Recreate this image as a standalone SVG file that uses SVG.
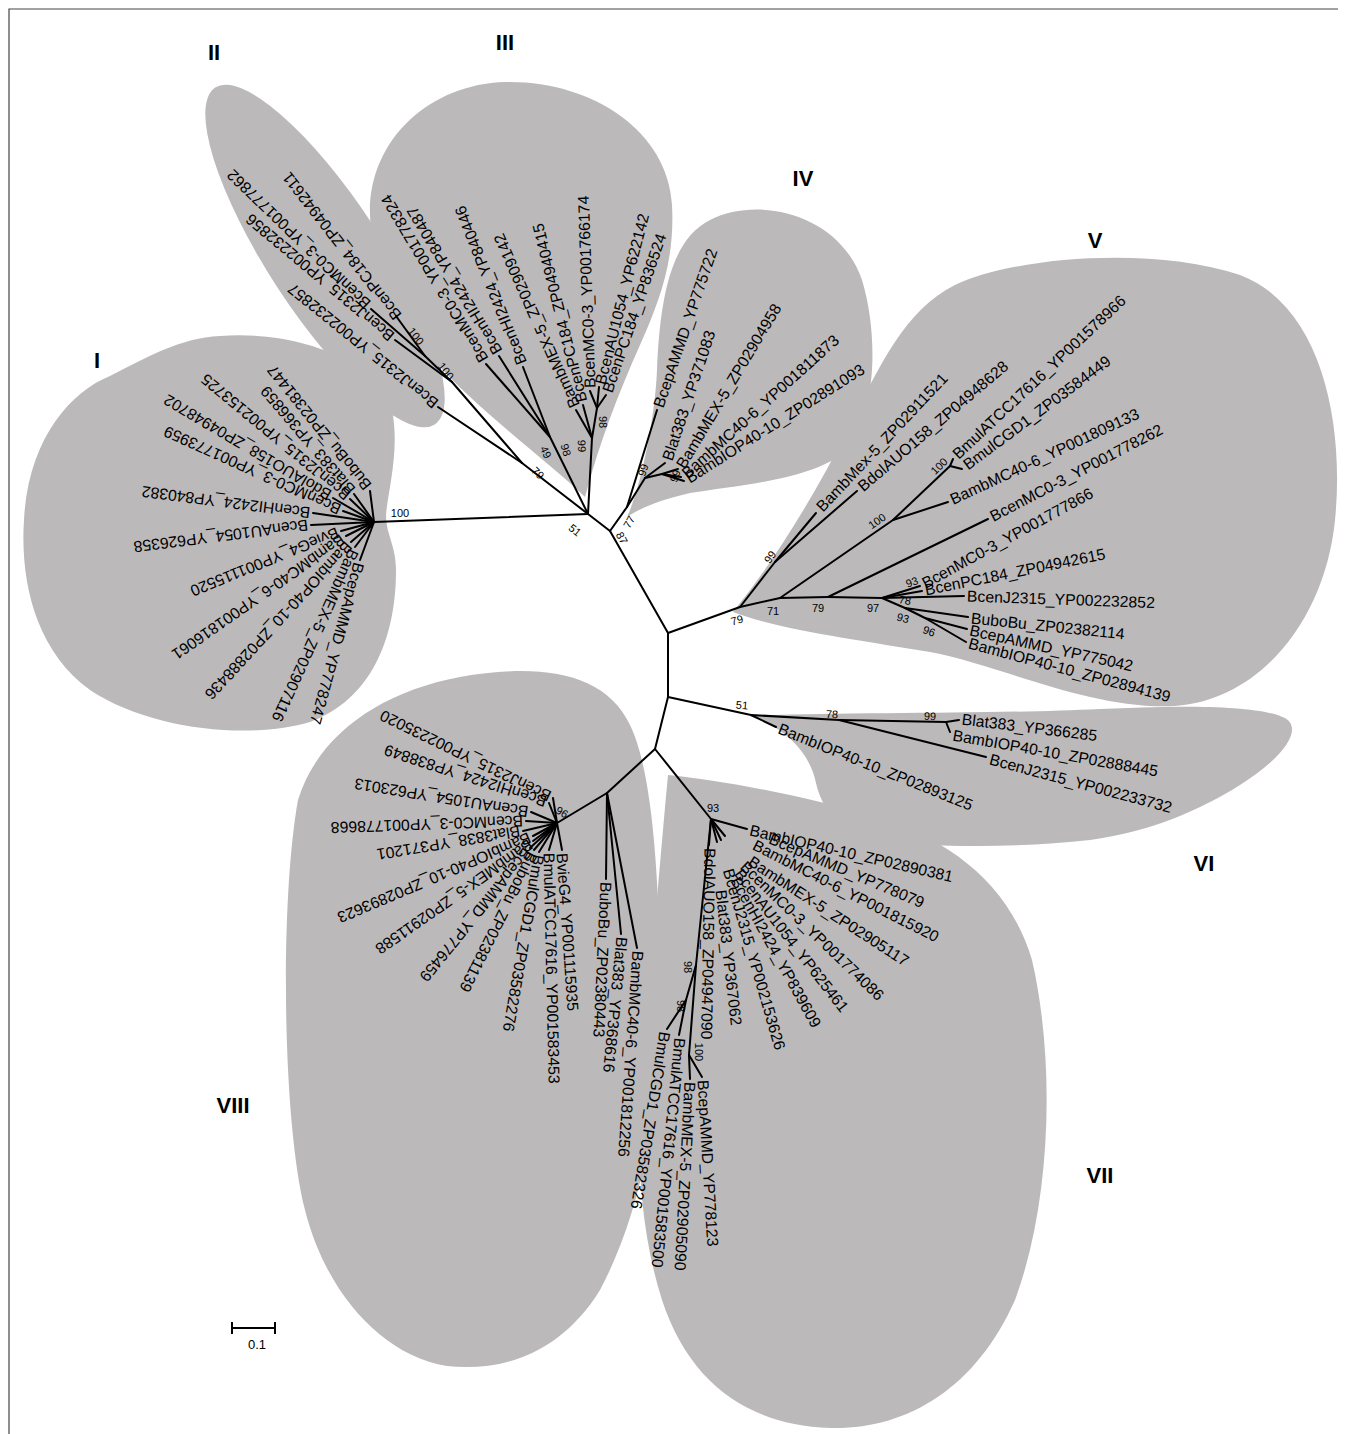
<svg xmlns="http://www.w3.org/2000/svg" width="1345" height="1434" viewBox="0 0 1345 1434">
<style>
.blob{fill:#bbb9ba}
.br line{stroke:#000;stroke-width:2;stroke-linecap:round}
.lf{font-family:"Liberation Sans",Arial,sans-serif;font-size:15.8px;fill:#000;dominant-baseline:central}
.bs{font-family:"Liberation Sans",Arial,sans-serif;font-size:11px;fill:#000;text-anchor:middle;dominant-baseline:central}
.gl{font-family:"Liberation Sans",Arial,sans-serif;font-size:22px;font-weight:bold;fill:#000;text-anchor:middle}
.frame{stroke:#444;stroke-width:1.2;fill:none}
</style>
<rect width="1345" height="1434" fill="#fff"/>
<path class="frame" d="M9,1434 L9,9 L1338,9"/>

<g id="clades">
<path id="clade-I" class="blob" d="M220,336 C300,330 378,362 392,410 C400,450 388,490 386,515 C386,535 396,545 396,570 C396,640 370,700 310,722 C250,740 150,730 90,690 C35,650 20,580 24,520 C28,440 70,392 110,376 C150,356 180,338 220,336 Z"/>
<ellipse id="clade-II" class="blob" cx="325" cy="256" rx="201" ry="57" transform="rotate(56.9 325 256)"/>
<path id="clade-III" class="blob" d="M585,497 C555,468 505,430 468,395 C420,350 372,290 370,215 C368,140 430,84 505,82 C590,80 668,130 672,205 C675,260 660,300 640,345 C620,390 600,440 585,497 Z"/>
<path id="clade-IV" class="blob" d="M627,517 C640,490 655,420 657,370 C660,300 670,240 710,220 C760,195 840,215 862,280 C880,340 875,420 845,452 C810,480 740,485 690,493 C660,500 640,508 627,517 Z"/>
<path id="clade-V" class="blob" d="M733,612 C775,560 815,495 850,425 C880,365 905,310 955,285 C1010,258 1150,245 1240,275 C1320,305 1345,420 1335,520 C1325,620 1260,700 1175,706 C1090,710 1000,665 930,652 C860,640 780,630 733,612 Z"/>
<path id="clade-VI" class="blob" d="M750,716 C850,712 1000,714 1100,709 C1180,705 1260,705 1285,718 C1305,730 1280,760 1240,785 C1200,810 1150,832 1090,840 C1020,848 930,848 880,840 C840,832 822,810 816,783 C810,755 790,730 750,716 Z"/>
<path id="clade-VII" class="blob" d="M668,775 C720,780 800,795 870,815 C950,838 1010,885 1032,960 C1055,1060 1052,1200 1015,1300 C975,1390 905,1430 830,1428 C750,1425 690,1385 662,1300 C635,1215 636,1120 645,1040 C652,960 660,860 668,775 Z"/>
<path id="clade-VIII" class="blob" d="M298,800 C318,735 380,692 460,677 C540,663 605,672 630,725 C652,770 658,870 660,960 C664,1080 648,1200 600,1290 C560,1355 500,1372 447,1366 C380,1355 325,1290 305,1210 C282,1120 280,900 298,800 Z"/>
</g>

<g id="connectors" class="br">
<line x1="588" y1="514" x2="374" y2="522"/>
<line x1="588" y1="514" x2="610" y2="531"/>
<line x1="610" y1="531" x2="668" y2="633"/>
<line x1="668" y1="633" x2="668" y2="697"/>
<line x1="668" y1="697" x2="655" y2="749"/>
<line x1="374" y1="522" x2="370" y2="491"/>
<line x1="374" y1="522" x2="354" y2="494"/>
<line x1="374" y1="522" x2="350" y2="499"/>
<line x1="374" y1="522" x2="333" y2="498"/>
<line x1="374" y1="522" x2="343" y2="511"/>
<line x1="374" y1="522" x2="313" y2="513"/>
<line x1="374" y1="522" x2="311" y2="525"/>
<line x1="374" y1="522" x2="341" y2="531"/>
<line x1="374" y1="522" x2="346" y2="536"/>
<line x1="374" y1="522" x2="351" y2="542"/>
<line x1="374" y1="522" x2="355" y2="547"/>
<line x1="374" y1="522" x2="360" y2="560"/>
<line x1="588" y1="514" x2="522" y2="463"/>
<line x1="522" y1="463" x2="452" y2="382"/>
<line x1="522" y1="463" x2="438" y2="407"/>
<line x1="452" y1="382" x2="425" y2="356"/>
<line x1="452" y1="382" x2="395" y2="340"/>
<line x1="425" y1="356" x2="396" y2="316"/>
<line x1="425" y1="356" x2="371" y2="309"/>
<line x1="588" y1="514" x2="550" y2="437"/>
<line x1="588" y1="514" x2="592" y2="438"/>
<line x1="550" y1="437" x2="486" y2="364"/>
<line x1="550" y1="437" x2="499" y2="356"/>
<line x1="550" y1="437" x2="523" y2="367"/>
<line x1="592" y1="438" x2="576" y2="410"/>
<line x1="592" y1="438" x2="583" y2="405"/>
<line x1="592" y1="438" x2="597" y2="408"/>
<line x1="597" y1="408" x2="590" y2="391"/>
<line x1="597" y1="408" x2="599" y2="387"/>
<line x1="597" y1="408" x2="606" y2="395"/>
<line x1="610" y1="531" x2="627" y2="507"/>
<line x1="627" y1="507" x2="657" y2="410"/>
<line x1="627" y1="507" x2="645" y2="478"/>
<line x1="645" y1="478" x2="665" y2="463"/>
<line x1="645" y1="478" x2="662" y2="474"/>
<line x1="662" y1="474" x2="678" y2="469"/>
<line x1="662" y1="474" x2="681" y2="477"/>
<line x1="662" y1="474" x2="684" y2="481"/>
<line x1="668" y1="633" x2="740" y2="607"/>
<line x1="740" y1="607" x2="775" y2="562"/>
<line x1="775" y1="562" x2="816" y2="513"/>
<line x1="775" y1="562" x2="857" y2="491"/>
<line x1="740" y1="607" x2="780" y2="598"/>
<line x1="780" y1="598" x2="893" y2="520"/>
<line x1="893" y1="520" x2="948" y2="502"/>
<line x1="893" y1="520" x2="950" y2="466"/>
<line x1="950" y1="466" x2="953" y2="459"/>
<line x1="950" y1="466" x2="962" y2="469"/>
<line x1="780" y1="598" x2="828" y2="597"/>
<line x1="828" y1="597" x2="988" y2="519"/>
<line x1="828" y1="597" x2="882" y2="598"/>
<line x1="882" y1="598" x2="920" y2="586"/>
<line x1="882" y1="598" x2="922" y2="591"/>
<line x1="882" y1="598" x2="964" y2="596"/>
<line x1="882" y1="598" x2="905" y2="608"/>
<line x1="905" y1="608" x2="968" y2="617"/>
<line x1="905" y1="608" x2="925" y2="618"/>
<line x1="925" y1="618" x2="967" y2="629"/>
<line x1="925" y1="618" x2="966" y2="642"/>
<line x1="668" y1="697" x2="751" y2="715"/>
<line x1="751" y1="715" x2="776" y2="727"/>
<line x1="751" y1="715" x2="839" y2="720"/>
<line x1="839" y1="720" x2="986" y2="757"/>
<line x1="839" y1="720" x2="946" y2="722"/>
<line x1="946" y1="722" x2="959" y2="720"/>
<line x1="946" y1="722" x2="950" y2="732"/>
<line x1="655" y1="749" x2="711" y2="819"/>
<line x1="711" y1="819" x2="747" y2="829"/>
<line x1="711" y1="819" x2="725" y2="836"/>
<line x1="711" y1="819" x2="721" y2="840"/>
<line x1="711" y1="819" x2="717" y2="842"/>
<line x1="711" y1="819" x2="709" y2="845"/>
<line x1="711" y1="819" x2="696" y2="965"/>
<line x1="696" y1="965" x2="689" y2="1055"/>
<line x1="696" y1="965" x2="686" y2="1000"/>
<line x1="686" y1="1000" x2="667" y2="1029"/>
<line x1="686" y1="1000" x2="679" y2="1035"/>
<line x1="689" y1="1055" x2="702" y2="1077"/>
<line x1="689" y1="1055" x2="690" y2="1079"/>
<line x1="655" y1="749" x2="607" y2="793"/>
<line x1="607" y1="793" x2="557" y2="823"/>
<line x1="607" y1="793" x2="606" y2="879"/>
<line x1="607" y1="793" x2="621" y2="934"/>
<line x1="607" y1="793" x2="637" y2="948"/>
<line x1="557" y1="823" x2="553" y2="798"/>
<line x1="557" y1="823" x2="549" y2="803"/>
<line x1="557" y1="823" x2="531" y2="812"/>
<line x1="557" y1="823" x2="526" y2="821"/>
<line x1="557" y1="823" x2="523" y2="831"/>
<line x1="557" y1="823" x2="533" y2="836"/>
<line x1="557" y1="823" x2="533" y2="841"/>
<line x1="557" y1="823" x2="530" y2="848"/>
<line x1="557" y1="823" x2="534" y2="850"/>
<line x1="557" y1="823" x2="539" y2="852"/>
<line x1="557" y1="823" x2="549" y2="850"/>
<line x1="557" y1="823" x2="562" y2="850"/>
</g>

<g id="leaves">
<g id="I01"><text class="lf" transform="translate(368,488) rotate(-128.9)">BuboBu_ZP02381447</text></g>
<g id="I02"><text class="lf" transform="translate(352,492) rotate(-130.5)">Blat383_YP366859</text></g>
<g id="I03"><text class="lf" transform="translate(348,497) rotate(-140.4)">BcenJ2315_YP002153725</text></g>
<g id="I04"><text class="lf" transform="translate(330,496) rotate(-149.4)">BdolAUO158_ZP04948702</text></g>
<g id="I05"><text class="lf" transform="translate(340,510) rotate(-155.6)">BcenMC0-3_YP001773959</text></g>
<g id="I06"><text class="lf" transform="translate(310,513) rotate(-172.7)">BcenHI2424_YP840382</text></g>
<g id="I07"><text class="lf" transform="translate(308,525) rotate(172.8)">BcenAU1054_YP626358</text></g>
<g id="I08"><text class="lf" transform="translate(338,532) rotate(157.9)">BvieG4_YP001115520</text></g>
<g id="I09"><text class="lf" transform="translate(343,538) rotate(145.1)">BambMC40-6_YP001816061</text></g>
<g id="I10"><text class="lf" transform="translate(349,544) rotate(132.7)">BambIOP40-10_ZP02888436</text></g>
<g id="I11"><text class="lf" transform="translate(354,550) rotate(114.4)">BambMEX-5_ZP02907116</text></g>
<g id="I12"><text class="lf" transform="translate(359,563) rotate(105.3)">BcepAMMD_YP778247</text></g>
<g id="II01"><text class="lf" transform="translate(398,318) rotate(-128)">BcenPC184_ZP04942611</text></g>
<g id="II02"><text class="lf" transform="translate(368,306) rotate(-136)">BcenMC0-3_YP001777862</text></g>
<g id="II03"><text class="lf" transform="translate(392,338) rotate(-140)">BcenJ2315_YP002232856</text></g>
<g id="II04"><text class="lf" transform="translate(436,405) rotate(-141)">BcenJ2315_YP002232857</text></g>
<g id="III01"><text class="lf" transform="translate(484,361) rotate(-121)">BcenMC0-3_YP001778324</text></g>
<g id="III02"><text class="lf" transform="translate(498,353) rotate(-121)">BcenHI2424_YP840487</text></g>
<g id="III03"><text class="lf" transform="translate(522,364) rotate(-111.7)">BcenHI2424_YP840446</text></g>
<g id="III04"><text class="lf" transform="translate(575,407) rotate(-114)">BambMEX-5_ZP02909142</text></g>
<g id="III05"><text class="lf" transform="translate(582,402) rotate(-104)">BcenPC184_ZP04940415</text></g>
<g id="III06"><text class="lf" transform="translate(590,388) rotate(-92)">BcenMC0-3_YP001766174</text></g>
<g id="III07"><text class="lf" transform="translate(600,384) rotate(-75.5)">BcenAU1054_YP622142</text></g>
<g id="III08"><text class="lf" transform="translate(607,392) rotate(-71)">BcenPC184_YP836524</text></g>
<g id="IV01"><text class="lf" transform="translate(658,407) rotate(-71)">BcepAMMD_YP775722</text></g>
<g id="IV02"><text class="lf" transform="translate(667,460) rotate(-71.4)">Blat383_YP371083</text></g>
<g id="IV03"><text class="lf" transform="translate(680,467) rotate(-59)">BambMEX-5_ZP02904958</text></g>
<g id="IV04"><text class="lf" transform="translate(684,475) rotate(-42)">BambMC40-6_YP001811873</text></g>
<g id="IV05"><text class="lf" transform="translate(687,479) rotate(-32.3)">BambIOP40-10_ZP02891093</text></g>
<g id="V01"><text class="lf" transform="translate(819,509) rotate(-46.7)">BambMex-5_ZP02911521</text></g>
<g id="V02"><text class="lf" transform="translate(860,488) rotate(-40.4)">BdolAUO158_ZP04948628</text></g>
<g id="V03"><text class="lf" transform="translate(955,456) rotate(-43.2)">BmulATCC17616_YP001578966</text></g>
<g id="V04"><text class="lf" transform="translate(965,466) rotate(-36.6)">BmulCGD1_ZP03584449</text></g>
<g id="V05"><text class="lf" transform="translate(951,500) rotate(-25)">BambMC40-6_YP001809133</text></g>
<g id="V06"><text class="lf" transform="translate(991,517) rotate(-27.5)">BcenMC0-3_YP001778262</text></g>
<g id="V07"><text class="lf" transform="translate(923,584) rotate(-28.6)">BcenMC0-3_YP001777866</text></g>
<g id="V08"><text class="lf" transform="translate(925,590) rotate(-11.4)">BcenPC184_ZP04942615</text></g>
<g id="V09"><text class="lf" transform="translate(967,596) rotate(2)">BcenJ2315_YP002232852</text></g>
<g id="V10"><text class="lf" transform="translate(971,618) rotate(5.9)">BuboBu_ZP02382114</text></g>
<g id="V11"><text class="lf" transform="translate(970,630) rotate(12.5)">BcepAMMD_YP775042</text></g>
<g id="V12"><text class="lf" transform="translate(969,643) rotate(15)">BambIOP40-10_ZP02894139</text></g>
<g id="VI01"><text class="lf" transform="translate(779,728) rotate(21.9)">BambIOP40-10_ZP02893125</text></g>
<g id="VI02"><text class="lf" transform="translate(990,759) rotate(15)">BcenJ2315_YP002233732</text></g>
<g id="VI03"><text class="lf" transform="translate(962,719) rotate(7)">Blat383_YP366285</text></g>
<g id="VI04"><text class="lf" transform="translate(953,735) rotate(10)">BambIOP40-10_ZP02888445</text></g>
<g id="VII01"><text class="lf" transform="translate(750,830) rotate(13)">BambIOP40-10_ZP02890381</text></g>
<g id="VII02"><text class="lf" transform="translate(770,838) rotate(23)">BcepAMMD_YP778079</text></g>
<g id="VII03"><text class="lf" transform="translate(754,844) rotate(27)">BambMC40-6_YP001815920</text></g>
<g id="VII04"><text class="lf" transform="translate(750,860) rotate(33)">BambMEX-5_ZP02905117</text></g>
<g id="VII05"><text class="lf" transform="translate(743,864) rotate(44)">BcenMC0-3_YP001774086</text></g>
<g id="VII06"><text class="lf" transform="translate(738,871) rotate(52.4)">BcenAU1054_YP625461</text></g>
<g id="VII07"><text class="lf" transform="translate(735,878) rotate(61)">BcenHI2424_YP839609</text></g>
<g id="VII08"><text class="lf" transform="translate(728,869) rotate(73.8)">BcenJ2315_YP002153626</text></g>
<g id="VII09"><text class="lf" transform="translate(721,890) rotate(83.5)">Blat383_YP367062</text></g>
<g id="VII10"><text class="lf" transform="translate(710,848) rotate(91)">BdolAUO158_ZP04947090</text></g>
<g id="VII11"><text class="lf" transform="translate(703,1080) rotate(86.6)">BcepAMMD_YP778123</text></g>
<g id="VII12"><text class="lf" transform="translate(690,1082) rotate(93)">BambMEX-5_ZP02905090</text></g>
<g id="VII13"><text class="lf" transform="translate(680,1038) rotate(95.7)">BmulATCC17616_YP001583500</text></g>
<g id="VII14"><text class="lf" transform="translate(665,1032) rotate(99.3)">BmulCGD1_ZP03582326</text></g>
<g id="VIII01"><text class="lf" transform="translate(606,882) rotate(92.6)">BuboBu_ZP02380443</text></g>
<g id="VIII02"><text class="lf" transform="translate(622,937) rotate(95.7)">Blat383_YP368616</text></g>
<g id="VIII03"><text class="lf" transform="translate(638,951) rotate(94)">BambMC40-6_YP001812256</text></g>
<g id="VIII04"><text class="lf" transform="translate(550,797) rotate(-154)">BcenJ2315_YP002235020</text></g>
<g id="VIII05"><text class="lf" transform="translate(546,802) rotate(-162)">BcenHI2424_YP838849</text></g>
<g id="VIII06"><text class="lf" transform="translate(528,812) rotate(-170.7)">BcenAU1054_YP623013</text></g>
<g id="VIII07"><text class="lf" transform="translate(523,821) rotate(178)">BcenMC0-3_YP001778668</text></g>
<g id="VIII08"><text class="lf" transform="translate(520,831) rotate(170.6)">Blat3838_YP371201</text></g>
<g id="VIII09"><text class="lf" transform="translate(530,837) rotate(157)">BambIOP40-10_ZP02893623</text></g>
<g id="VIII10"><text class="lf" transform="translate(531,843) rotate(145)">BambMEX-5_ZP02911588</text></g>
<g id="VIII11"><text class="lf" transform="translate(528,850) rotate(129)">BcepAMMD_YP776459</text></g>
<g id="VIII12"><text class="lf" transform="translate(533,853) rotate(116.6)">BuboBu_ZP02381139</text></g>
<g id="VIII13"><text class="lf" transform="translate(539,855) rotate(99.9)">BmulCGD1_ZP03582276</text></g>
<g id="VIII14"><text class="lf" transform="translate(549,853) rotate(88.7)">BmulATCC17616_YP001583453</text></g>
<g id="VIII15"><text class="lf" transform="translate(562,853) rotate(86)">BvieG4_YP001115935</text></g>
</g>

<g id="bootstrap">
<text class="bs" x="400" y="513">100</text>
<text class="bs" transform="translate(416,336) rotate(52)">100</text>
<text class="bs" transform="translate(446,371) rotate(52)">100</text>
<text class="bs" transform="translate(538,473) rotate(45)">79</text>
<text class="bs" transform="translate(546,452) rotate(65)">49</text>
<text class="bs" transform="translate(566,450) rotate(75)">98</text>
<text class="bs" transform="translate(582,446) rotate(88)">99</text>
<text class="bs" transform="translate(603,422) rotate(90)">98</text>
<text class="bs" transform="translate(575,530) rotate(40)">51</text>
<text class="bs" transform="translate(629,522) rotate(-60)">77</text>
<text class="bs" transform="translate(622,538) rotate(62)">87</text>
<text class="bs" transform="translate(643,470) rotate(-72)">99</text>
<text class="bs" transform="translate(675,476) rotate(-70)">99</text>
<text class="bs" transform="translate(737,620) rotate(-15)">79</text>
<text class="bs" transform="translate(770,557) rotate(-55)">99</text>
<text class="bs" x="773" y="611">71</text>
<text class="bs" transform="translate(877,521) rotate(-35)">100</text>
<text class="bs" transform="translate(939,466) rotate(-45)">100</text>
<text class="bs" x="818" y="608">79</text>
<text class="bs" x="873" y="608">97</text>
<text class="bs" transform="translate(912,582) rotate(-20)">93</text>
<text class="bs" transform="translate(905,600) rotate(10)">78</text>
<text class="bs" transform="translate(903,618) rotate(15)">93</text>
<text class="bs" transform="translate(929,631) rotate(20)">96</text>
<text class="bs" transform="translate(742,705) rotate(5)">51</text>
<text class="bs" transform="translate(832,714) rotate(3)">78</text>
<text class="bs" transform="translate(930,716) rotate(3)">99</text>
<text class="bs" x="713" y="808">93</text>
<text class="bs" transform="translate(688,967) rotate(90)">98</text>
<text class="bs" transform="translate(681,1006) rotate(90)">98</text>
<text class="bs" transform="translate(699,1052) rotate(90)">100</text>
<text class="bs" transform="translate(562,812) rotate(30)">96</text>
</g>

<g id="clade-labels">
<text class="gl" x="97" y="368">I</text>
<text class="gl" x="214" y="60">II</text>
<text class="gl" x="505" y="50">III</text>
<text class="gl" x="803" y="186">IV</text>
<text class="gl" x="1095" y="248">V</text>
<text class="gl" x="1204" y="871">VI</text>
<text class="gl" x="1100" y="1183">VII</text>
<text class="gl" x="233" y="1113">VIII</text>
</g>

<g id="scale-bar">
<path d="M232,1328 L275,1328 M232,1322 L232,1334 M275,1322 L275,1334" stroke="#000" stroke-width="2" fill="none"/>
<text x="257" y="1349" font-family="Liberation Sans, Arial, sans-serif" font-size="13" text-anchor="middle">0.1</text>
</g>
</svg>
